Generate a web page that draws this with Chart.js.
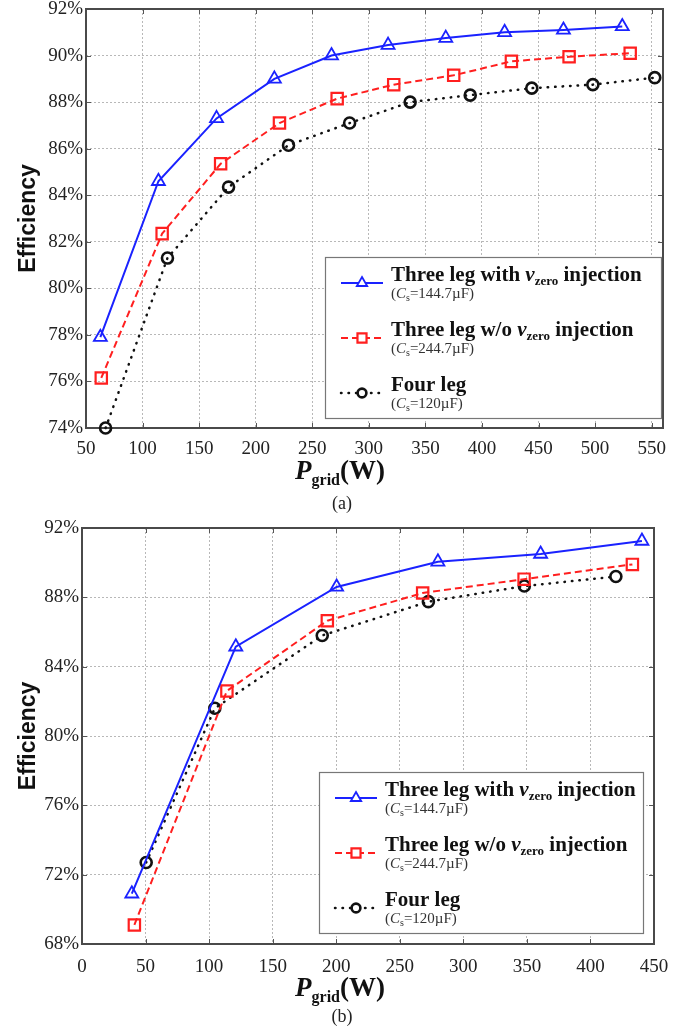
<!DOCTYPE html>
<html>
<head>
<meta charset="utf-8">
<title>Efficiency vs Pgrid</title>
<script src="https://cdn.jsdelivr.net/npm/chart.js@4.4.0/dist/chart.umd.min.js"></script>
<style>
    html, body { margin: 0; padding: 0; background: #fff; }
    body { width: 684px; height: 1030px; position: relative; overflow: hidden; }
    .fig { position: absolute; left: 0; width: 684px; }
    #figA { top: -10px; height: 530px; }
    #figB { top: 508px; height: 522px; }
</style>
</head>
<body>
<div class="fig" id="figA"><canvas id="chartA"></canvas></div>
<div class="fig" id="figB"><canvas id="chartB"></canvas></div>
<script>
/* ---- data: (a) ---- */
var aBlueX  = [62.7, 114, 165.4, 216.5, 267, 317, 368, 420, 472, 524];
var aBlueY  = [77.9, 84.6, 87.3, 89.0, 90.0, 90.45, 90.75, 91.0, 91.1, 91.25];
var aRedX   = [63.5, 117.3, 169, 221, 272, 322, 375, 426, 477, 531];
var aRedY   = [76.15, 82.35, 85.35, 87.1, 88.15, 88.75, 89.15, 89.75, 89.95, 90.1];
var aBlackX = [67.3, 122, 176, 229, 283, 336.5, 389.6, 444, 498, 552.7];
var aBlackY = [74.0, 81.3, 84.35, 86.15, 87.1, 88.0, 88.3, 88.6, 88.75, 89.05];

/* ---- data: (b) ---- */
var bBlueX  = [39.2, 121, 200.3, 280, 360.8, 440.5];
var bBlueY  = [70.9, 85.15, 88.6, 90.05, 90.5, 91.25];
var bRedX   = [41.2, 114, 193, 268, 347.8, 433];
var bRedY   = [69.1, 82.6, 86.65, 88.25, 89.05, 89.9];
var bBlackX = [50.5, 104.5, 189, 272.5, 348, 420];
var bBlackY = [72.7, 81.6, 85.8, 87.75, 88.65, 89.2];

/* ---- axes ---- */
var aXTicks = { min: 50, max: 560, step: 50, last: 550 };
var aYTicks = { min: 74, max: 92, step: 2 };
var bXTicks = { min: 0, max: 450, step: 50, last: 450 };
var bYTicks = { min: 68, max: 92, step: 4 };

/* ---- legend texts ---- */
var seriesNames = ['Three leg with ', 'Three leg w/o ', 'Four leg'];
var seriesCaps  = ['144.7\u00B5F', '244.7\u00B5F', '120\u00B5F'];

var SERIF = "'Liberation Serif', 'Times New Roman', serif";
var SANS = "'Liberation Sans', Arial, sans-serif";

function pts(xs, ys) {
    return xs.map(function(x, i) { return { x: x, y: ys[i] }; });
}

function mainRuns(i) {
    var r = [{ t: seriesNames[i], f: 'bold 21px ' + SERIF }];
    if (i < 2) {
        r.push({ t: 'v', f: 'italic bold 21px ' + SERIF });
        r.push({ t: 'zero', f: 'bold 13px ' + SERIF, dy: 4 });
        r.push({ t: ' injection', f: 'bold 21px ' + SERIF });
    }
    return r;
}

function subRuns(i) {
    return [
        { t: '(', f: '15px ' + SERIF },
        { t: 'C', f: 'italic 15px ' + SERIF },
        { t: 's', f: '10px ' + SERIF, dy: 3 },
        { t: '=' + seriesCaps[i] + ')', f: '15px ' + SERIF }
    ];
}

function drawRuns(ctx, x, y, runs) {
    runs.forEach(function(r) {
        ctx.font = r.f;
        ctx.fillText(r.t, x, y + (r.dy || 0));
        x += ctx.measureText(r.t).width;
    });
    return x;
}

function runsWidth(ctx, runs) {
    var w = 0;
    runs.forEach(function(r) {
        ctx.font = r.f;
        w += ctx.measureText(r.t).width;
    });
    return w;
}

/* frame, inner ticks, x title, caption and legend */
var figDecor = {
    id: 'figDecor',
    beforeDatasetsDraw: function(chart, args, opts) {
        var ctx = chart.ctx, a = chart.chartArea;
        var xs = chart.scales.x, ys = chart.scales.y;
        ctx.save();
        ctx.strokeStyle = '#555';
        ctx.lineWidth = 1;
        ctx.beginPath();
        xs.ticks.forEach(function(t) {
            var px = Math.round(xs.getPixelForValue(t.value)) + 0.5;
            ctx.moveTo(px, a.bottom); ctx.lineTo(px, a.bottom - 5);
            ctx.moveTo(px, a.top); ctx.lineTo(px, a.top + 5);
        });
        ys.ticks.forEach(function(t) {
            var py = Math.round(ys.getPixelForValue(t.value)) + 0.5;
            ctx.moveTo(a.left, py); ctx.lineTo(a.left + 5, py);
            ctx.moveTo(a.right, py); ctx.lineTo(a.right - 5, py);
        });
        ctx.stroke();
        ctx.strokeStyle = '#4a4a4a';
        ctx.lineWidth = 2;
        ctx.strokeRect(a.left, a.top, a.right - a.left, a.bottom - a.top);
        ctx.restore();
    },
    afterDraw: function(chart, args, opts) {
        var ctx = chart.ctx, a = chart.chartArea;
        ctx.save();
        ctx.fillStyle = '#111';
        ctx.textBaseline = 'alphabetic';

        /* x axis title P_grid(W) */
        var tRuns = [
            { t: 'P', f: 'italic bold 27px ' + SERIF },
            { t: 'grid', f: 'bold 16px ' + SERIF, dy: 6 },
            { t: '(W)', f: 'bold 27px ' + SERIF }
        ];
        var tw = runsWidth(ctx, tRuns);
        drawRuns(ctx, opts.titleX - tw / 2, a.bottom + opts.titleDy, tRuns);

        /* caption */
        ctx.font = '18px ' + SERIF;
        ctx.textAlign = 'center';
        ctx.textBaseline = 'middle';
        ctx.fillStyle = '#222';
        ctx.fillText(opts.caption, opts.titleX + 2, a.bottom + opts.captionDy);
        ctx.textAlign = 'left';
        ctx.textBaseline = 'alphabetic';

        /* legend box */
        var L = opts.legend;
        var bx = a.right - L.right - L.width;
        var by = a.bottom - L.bottom - L.height;
        ctx.fillStyle = '#fff';
        ctx.fillRect(bx, by, L.width, L.height);
        ctx.strokeStyle = '#777';
        ctx.lineWidth = 1.2;
        ctx.strokeRect(bx + 0.5, by + 0.5, L.width, L.height);

        chart.data.datasets.forEach(function(ds, i) {
            var ly = by + 26 + 55 * i;
            ctx.save();
            ctx.strokeStyle = ds.borderColor;
            ctx.lineWidth = ds.borderWidth;
            ctx.lineCap = ds.borderCapStyle || 'butt';
            ctx.setLineDash(ds.borderDash || []);
            ctx.beginPath();
            ctx.moveTo(bx + 16, ly);
            ctx.lineTo(bx + 58, ly);
            ctx.stroke();
            ctx.setLineDash([]);
            ctx.fillStyle = '#fff';
            ctx.strokeStyle = ds.pointBorderColor;
            ctx.lineWidth = ds.pointBorderWidth;
            Chart.helpers.drawPoint(ctx, {
                pointStyle: ds.pointStyle,
                radius: ds.pointRadius * 0.8,
                borderWidth: ds.pointBorderWidth,
                rotation: 0
            }, bx + 37, ly);
            ctx.restore();

            ctx.fillStyle = '#111';
            drawRuns(ctx, bx + 66, ly - 2, mainRuns(i));
            ctx.fillStyle = '#333';
            drawRuns(ctx, bx + 66, ly + 15, subRuns(i));
        });
        ctx.restore();
    }
};

function makeDatasets(bx, by, rx, ry, kx, ky) {
    return [
        {
            label: 'Three leg with vzero injection (Cs=144.7\u00B5F)',
            data: pts(bx, by),
            borderColor: '#1a22ff',
            borderWidth: 2,
            pointStyle: 'triangle',
            pointRadius: 7.5,
            pointBorderWidth: 1.8,
            pointBorderColor: '#1a22ff',
            pointBackgroundColor: 'rgba(255,255,255,0)',
            tension: 0,
            clip: false
        },
        {
            label: 'Three leg w/o vzero injection (Cs=244.7\u00B5F)',
            data: pts(rx, ry),
            borderColor: '#ff1f1f',
            borderWidth: 2,
            borderDash: [7, 4],
            pointStyle: 'rect',
            pointRadius: 8,
            pointBorderWidth: 2.2,
            pointBorderColor: '#ff1f1f',
            pointBackgroundColor: 'rgba(255,255,255,0)',
            tension: 0,
            clip: false
        },
        {
            label: 'Four leg (Cs=120\u00B5F)',
            data: pts(kx, ky),
            borderColor: '#111',
            borderWidth: 2.5,
            borderDash: [0.5, 7],
            borderCapStyle: 'round',
            pointStyle: 'circle',
            pointRadius: 5.5,
            pointBorderWidth: 2.6,
            pointBorderColor: '#111',
            pointBackgroundColor: 'rgba(255,255,255,0)',
            tension: 0,
            clip: false
        }
    ];
}

function makeChart(el, datasets, xt, yt, cfg) {
    return new Chart(el, {
        type: 'line',
        data: { datasets: datasets },
        plugins: [figDecor],
        options: {
            responsive: true,
            maintainAspectRatio: false,
            animation: false,
            events: [],
            layout: { padding: { left: 0, right: cfg.padRight, top: cfg.padTop, bottom: 0 } },
            plugins: {
                legend: { display: false },
                tooltip: { enabled: false },
                figDecor: cfg.decor
            },
            scales: {
                x: {
                    type: 'linear',
                    min: xt.min,
                    max: xt.max,
                    afterBuildTicks: function(s) {
                        /* major ticks every step up to the last labelled value */
                        var t = [];
                        for (var v = xt.min; v <= xt.last; v += xt.step) t.push({ value: v });
                        s.ticks = t;
                    },
                    afterFit: function(s) { s.height = cfg.xHeight; },
                    ticks: {
                        stepSize: xt.step,
                        autoSkip: false,
                        maxRotation: 0,
                        padding: cfg.xPad,
                        color: '#222',
                        font: { family: SERIF, size: 19 }
                    },
                    grid: { color: '#b8b8b8', lineWidth: 1, drawTicks: false },
                    border: { display: false, dash: [2, 2] }
                },
                y: {
                    min: yt.min,
                    max: yt.max,
                    afterFit: function(s) { s.width = cfg.yWidth; },
                    ticks: {
                        stepSize: yt.step,
                        padding: 3,
                        color: '#222',
                        font: { family: SERIF, size: 19 },
                        callback: function(v) { return v + '%'; }
                    },
                    grid: { color: '#b8b8b8', lineWidth: 1, drawTicks: false },
                    border: { display: false, dash: [2, 2] },
                    title: {
                        display: true,
                        text: 'Efficiency',
                        color: '#111',
                        font: { family: SANS, size: 23, weight: 'bold' },
                        padding: { top: 15, bottom: 0 }
                    }
                }
            }
        }
    });
}

makeChart(document.getElementById('chartA'),
    makeDatasets(aBlueX, aBlueY, aRedX, aRedY, aBlackX, aBlackY),
    aXTicks, aYTicks,
    {
        padTop: 19, padRight: 21, xHeight: 92, yWidth: 86, xPad: 10,
        decor: {
            titleX: 340, titleDy: 51, caption: '(a)', captionDy: 76,
            legend: { right: 2, bottom: 10, width: 336, height: 161 }
        }
    });

makeChart(document.getElementById('chartB'),
    makeDatasets(bBlueX, bBlueY, bRedX, bRedY, bBlackX, bBlackY),
    bXTicks, bYTicks,
    {
        padTop: 20, padRight: 30, xHeight: 86, yWidth: 82, xPad: 12,
        decor: {
            titleX: 340, titleDy: 52, caption: '(b)', captionDy: 73,
            legend: { right: 11, bottom: 11, width: 324, height: 161 }
        }
    });
</script>
</body>
</html>
